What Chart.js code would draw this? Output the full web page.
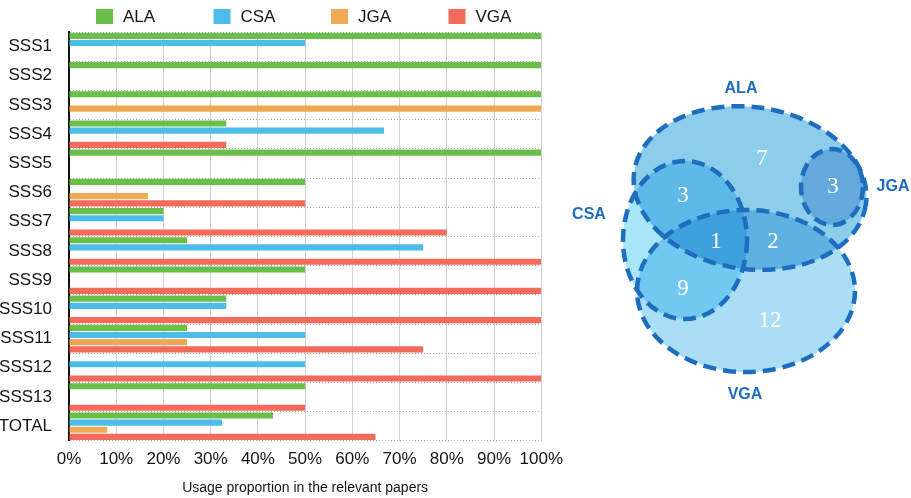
<!DOCTYPE html>
<html>
<head>
<meta charset="utf-8">
<script src="https://cdn.jsdelivr.net/npm/chart.js@4.4.1/dist/chart.umd.min.js"></script>
<style>
  html, body { margin: 0; padding: 0; background: #fff; width: 911px; height: 498px; overflow: hidden; }
  body { position: relative; }
  #bars { position: absolute; left: 0; top: 0; }
  #venn { position: absolute; left: 560px; top: 0; }
</style>
</head>
<body>
<canvas id="bars" width="571" height="498"></canvas>
<canvas id="venn" width="351" height="498"></canvas>
<script>
// ---- data: usage proportion (%) per study group ----
const categories = ['SSS1', 'SSS2', 'SSS3', 'SSS4', 'SSS5', 'SSS6', 'SSS7', 'SSS8', 'SSS9', 'SSS10', 'SSS11', 'SSS12', 'SSS13', 'TOTAL'];
const seriesNames = ['ALA', 'CSA', 'JGA', 'VGA'];
const alaValues = [100, 100, 100, 33.3, 100, 50, 20, 25, 50, 33.3, 25, null, 50, 43.2];
const csaValues = [50, null, null, 66.7, null, null, 20, 75, null, 33.3, 50, 50, null, 32.4];
const jgaValues = [null, null, 100, null, null, 16.7, null, null, null, null, 25, null, null, 8.1];
const vgaValues = [null, null, null, 33.3, null, 50, 80, 100, 100, 100, 75, 100, 50, 64.9];
const xTickValues = [0, 10, 20, 30, 40, 50, 60, 70, 80, 90, 100];

// ---- data: paper counts per overlap region ----
const vennSets = ['ALA', 'CSA', 'JGA', 'VGA'];
const regionNames = ['ALA', 'ALA+CSA', 'ALA+JGA', 'ALA+CSA+VGA', 'ALA+VGA', 'CSA+VGA', 'VGA'];
const regionCounts = [7, 3, 3, 1, 2, 9, 12];

// ---- styling ----
const seriesColors = ['#6abf4b', '#4cbde9', '#f0aa55', '#f26b5b'];
const sansFont = '"Liberation Sans", Arial, Helvetica, sans-serif';
const inkColor = '#151515';

// Legend row above the bars, evenly spaced items
const legendRow = {
  id: 'legendRow',
  afterDraw(chart, args, opts) {
    const ctx = chart.ctx;
    const left = chart.chartArea.left + opts.offset;
    ctx.save();
    ctx.font = opts.fontSize + 'px ' + sansFont;
    ctx.textBaseline = 'middle';
    ctx.textAlign = 'left';
    chart.data.datasets.forEach((ds, i) => {
      const x = left + i * opts.slot;
      ctx.fillStyle = ds.backgroundColor;
      ctx.fillRect(x, opts.top, opts.box, opts.boxH);
      ctx.fillStyle = inkColor;
      ctx.fillText(ds.label, x + opts.box + opts.gap, opts.top + opts.boxH / 2 + 1);
    });
    ctx.restore();
  }
};

const seriesData = [alaValues, csaValues, jgaValues, vgaValues];

new Chart(document.getElementById('bars'), {
  type: 'bar',
  data: {
    labels: categories,
    datasets: seriesNames.map((name, i) => ({
      label: name,
      data: seriesData[i],
      backgroundColor: seriesColors[i],
      borderWidth: 0,
      categoryPercentage: 0.98,
      barPercentage: 0.86
    }))
  },
  plugins: [legendRow],
  options: {
    indexAxis: 'y',
    responsive: false,
    animation: false,
    layout: { padding: { top: 32, right: 2, bottom: 1, left: 0 } },
    plugins: {
      legend: { display: false },
      tooltip: { enabled: false },
      legendRow: { offset: 27, slot: 117.5, top: 9, box: 17, boxH: 15, gap: 10, fontSize: 17 }
    },
    scales: {
      x: {
        min: 0,
        max: 100,
        afterBuildTicks(scale) { scale.ticks = xTickValues.map(v => ({ value: v })); },
        ticks: {
          callback: v => v + '%',
          color: inkColor,
          font: { family: sansFont, size: 17 },
          padding: 8,
          maxRotation: 0
        },
        grid: { color: '#d2d2d2', lineWidth: 1, drawTicks: false },
        border: { display: false },
        title: {
          display: true,
          text: 'Usage proportion in the relevant papers',
          color: inkColor,
          font: { family: sansFont, size: 14 },
          padding: { top: 3, bottom: 0 }
        }
      },
      y: {
        afterFit(scale) { scale.width = 69; },
        ticks: {
          color: inkColor,
          font: { family: sansFont, size: 17 },
          padding: 17
        },
        grid: { color: '#b0b0b0', lineWidth: 1, drawTicks: false, offset: true },
        border: { display: true, color: '#111', width: 2, dash: [1, 2] }
      }
    }
  }
});

// ---- overlap diagram ----
// fills are multiplied together, so overlaps darken
const vennShapes = {
  VGA: { cx: 746, cy: 291, rx: 109, ry: 81, rot: 0, fill: 'rgb(170,222,245)', label: [745, 395] },
  ALA: { cx: 750, cy: 188, rx: 117, ry: 81, rot: 8, fill: 'rgb(140,205,236)', label: [741, 89] },
  CSA: { cx: 685, cy: 240, rx: 62, ry: 79, rot: 0, fill: 'rgb(170,230,250)', label: [589, 215] },
  JGA: { cx: 832, cy: 187, rx: 31, ry: 38, rot: 0, fill: 'rgb(182,211,238)', label: [893, 187] }
};
const drawOrder = ['VGA', 'ALA', 'CSA', 'JGA'];
const regionSpots = [[762, 158], [683, 195], [833, 186], [716, 241], [773, 241], [683, 288], [770, 320]];

const vennPainter = {
  id: 'vennPainter',
  afterDatasetsDraw(chart) {
    const ctx = chart.ctx;
    const sx = chart.scales.x, sy = chart.scales.y;
    const px = v => sx.getPixelForValue(v);
    const py = v => sy.getPixelForValue(v);
    const path = s => {
      const c = [px(s.cx), py(s.cy)];
      const rx = Math.abs(px(s.cx + s.rx) - c[0]);
      const ry = Math.abs(py(s.cy + s.ry) - c[1]);
      ctx.beginPath();
      ctx.ellipse(c[0], c[1], rx, ry, s.rot * Math.PI / 180, 0, Math.PI * 2);
    };
    ctx.save();
    ctx.globalCompositeOperation = 'multiply';
    drawOrder.forEach(k => {
      path(vennShapes[k]);
      ctx.fillStyle = vennShapes[k].fill;
      ctx.fill();
    });
    ctx.globalCompositeOperation = 'source-over';
    ctx.setLineDash([13, 7]);
    ctx.lineWidth = 4.5;
    ctx.strokeStyle = '#1e6dbf';
    drawOrder.forEach(k => {
      path(vennShapes[k]);
      ctx.stroke();
    });
    ctx.setLineDash([]);

    // set names
    ctx.fillStyle = '#1e6dbf';
    ctx.font = 'bold 16px ' + sansFont;
    ctx.textAlign = 'center';
    ctx.textBaseline = 'middle';
    vennSets.forEach(k => {
      const p = vennShapes[k].label;
      ctx.fillText(k, px(p[0]), py(p[1]));
    });

    // region counts
    ctx.fillStyle = '#ffffff';
    ctx.font = '23px "Liberation Serif", "Times New Roman", serif';
    const pts = chart.getDatasetMeta(0).data;
    pts.forEach((pt, i) => {
      ctx.fillText(String(regionCounts[i]), pt.x, pt.y + 1);
    });
    ctx.restore();
  }
};

new Chart(document.getElementById('venn'), {
  type: 'scatter',
  data: {
    datasets: [{
      label: 'regions',
      data: regionSpots.map((p, i) => ({ x: p[0], y: p[1], name: regionNames[i] })),
      pointRadius: 0,
      pointHoverRadius: 0
    }]
  },
  plugins: [vennPainter],
  options: {
    responsive: false,
    animation: false,
    layout: { padding: 0 },
    plugins: { legend: { display: false }, tooltip: { enabled: false } },
    scales: {
      x: { type: 'linear', min: 560, max: 911, display: false },
      y: { type: 'linear', min: 0, max: 498, reverse: true, display: false }
    }
  }
});
</script>
</body>
</html>
